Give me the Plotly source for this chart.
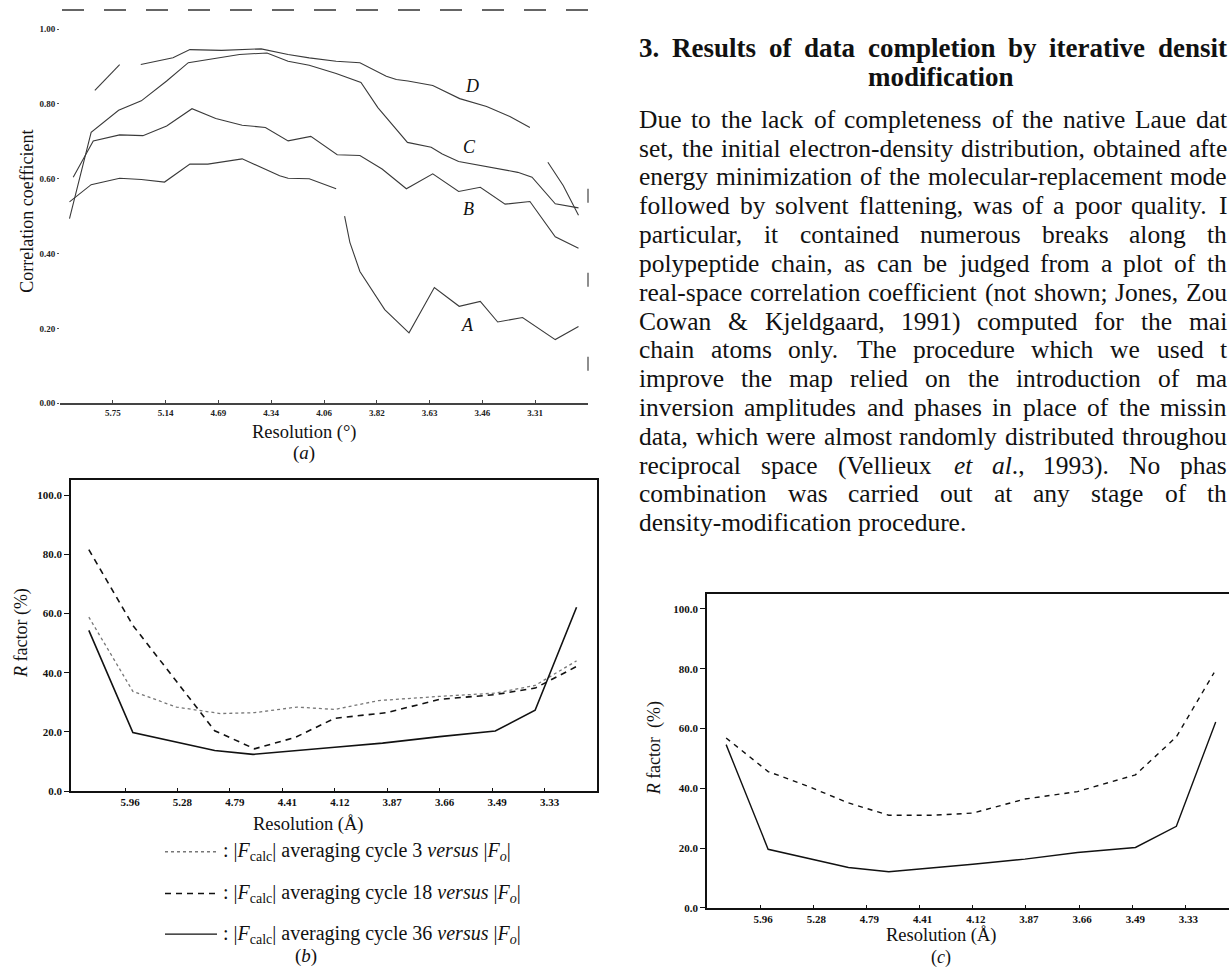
import re
import plotly.graph_objects as go

W, H = 1229, 976
SERIF = "Liberation Serif"

# ---------------- Panel (a): correlation coefficient ----------------
a_tick_pos = [1, 2, 3, 4, 5, 6, 7, 8, 9]
a_tick_text = ["5.75", "5.14", "4.69", "4.34", "4.06", "3.82", "3.63", "3.46", "3.31"]
a_ytick_vals = [0.0, 0.2, 0.4, 0.6, 0.8, 1.0]
a_ytick_text = ["0.00", "0.20", "0.40", "0.60", "0.80", "1.00"]

aA_x = [0.18, 0.59, 1.13, 1.54, 1.98, 2.46, 2.80, 3.45, 4.16, 4.32, 4.72, 5.23, None,
        5.39, 5.49, 5.68, 6.15, 6.61, 7.09, 7.56, 7.96, 8.29, 8.76, 9.38, 9.82]
aA_y = [0.538, 0.584, 0.601, 0.598, 0.591, 0.639, 0.639, 0.653, 0.608, 0.601, 0.600, 0.573, None,
        0.500, 0.430, 0.352, 0.250, 0.188, 0.309, 0.259, 0.272, 0.217, 0.229, 0.170, 0.205]

aB_x = [0.25, 0.63, 1.13, 1.57, 2.02, 2.50, 2.95, 3.45, 3.89, 4.32, 4.75, 5.25, 5.68, 6.10,
        6.56, 7.06, 7.55, 7.96, 8.43, 8.90, 9.38, 9.82]
aB_y = [0.604, 0.701, 0.717, 0.715, 0.741, 0.787, 0.761, 0.743, 0.737, 0.701, 0.713, 0.664, 0.662, 0.626,
        0.573, 0.613, 0.566, 0.577, 0.532, 0.539, 0.445, 0.414]

aC_x = [0.18, 0.37, 0.59, 1.11, 1.54, 2.02, 2.43, 3.40, 3.92, 4.32, 4.72, 5.23, 5.70, 6.02,
        6.58, 7.03, 7.24, 7.55, 8.17, 8.67, 8.94, 9.38, 9.82]
aC_y = [0.493, 0.598, 0.724, 0.783, 0.808, 0.861, 0.910, 0.932, 0.936, 0.914, 0.903, 0.881, 0.857, 0.790,
        0.697, 0.684, 0.666, 0.646, 0.631, 0.617, 0.604, 0.533, 0.522]

aD_x = [0.66, 1.13, None, 1.53, 2.14, 2.46, 3.06, 3.81, 4.32, 4.72, 5.23, 5.68, 6.18, 6.37,
        6.59, 7.06, 7.57, 8.08, 8.52, 8.90, None, 9.24, 9.53, 9.82]
aD_y = [0.836, 0.905, None, 0.905, 0.923, 0.945, 0.943, 0.947, 0.932, 0.923, 0.914, 0.910, 0.874, 0.865,
        0.861, 0.849, 0.814, 0.793, 0.766, 0.737, None, 0.644, 0.582, 0.502]

a_curve_labels = ["D", "C", "B", "A"]
a_label_x = [7.80, 7.76, 7.74, 7.72]
a_label_y = [0.849, 0.685, 0.520, 0.209]

# ---------------- Panel (b): R factor, three cycles ----------------
b_tick_pos = [1, 2, 3, 4, 5, 6, 7, 8, 9]
b_tick_text = ["5.96", "5.28", "4.79", "4.41", "4.12", "3.87", "3.66", "3.49", "3.33"]
r_ytick_vals = [0, 20, 40, 60, 80, 100]
r_ytick_text = ["0.0", "20.0", "40.0", "60.0", "80.0", "100.0"]

b_dot_x = [0.31, 1.15, 1.98, 2.82, 3.47, 4.28, 5.00, 5.84, 7.00, 8.06, 8.82, 9.61]
b_dot_y = [58.8, 33.7, 28.4, 26.2, 26.5, 28.4, 27.6, 30.6, 32.0, 33.1, 35.7, 44.0]
b_dash_x = [0.31, 1.15, 1.98, 2.71, 3.47, 4.24, 5.00, 5.99, 7.00, 8.06, 8.82, 9.61]
b_dash_y = [81.6, 56.0, 37.1, 20.4, 14.3, 18.1, 24.6, 26.5, 31.0, 32.6, 34.8, 42.1]
b_solid_x = [0.31, 1.15, 2.71, 3.44, 5.00, 5.91, 7.00, 8.06, 8.82, 9.61]
b_solid_y = [54.3, 19.8, 13.7, 12.4, 14.8, 16.2, 18.4, 20.3, 27.3, 62.1]

b_legend_text = [
    ": |<i>F</i><sub>calc</sub>| averaging cycle 3 <i>versus</i> |<i>F<sub>o</sub></i>|",
    ": |<i>F</i><sub>calc</sub>| averaging cycle 18 <i>versus</i> |<i>F<sub>o</sub></i>|",
    ": |<i>F</i><sub>calc</sub>| averaging cycle 36 <i>versus</i> |<i>F<sub>o</sub></i>|",
]

# ---------------- Panel (c): R factor, two curves ----------------
c_tick_pos = [1, 2, 3, 4, 5, 6, 7, 8, 9]
c_tick_text = ["5.96", "5.28", "4.79", "4.41", "4.12", "3.87", "3.66", "3.49", "3.33"]
c_dash_x = [0.36, 1.15, 1.91, 2.66, 3.42, 4.25, 5.00, 5.98, 6.97, 8.06, 8.83, 9.54]
c_dash_y = [56.8, 45.6, 40.6, 35.1, 31.0, 31.0, 31.7, 36.4, 38.9, 44.5, 57.2, 78.7]
c_solid_x = [0.36, 1.15, 2.66, 3.42, 5.00, 5.98, 6.97, 8.06, 8.83, 9.57]
c_solid_y = [54.6, 19.6, 13.5, 12.1, 14.6, 16.3, 18.5, 20.2, 27.3, 62.2]

# ---------------- Text column ----------------
heading_1 = "3. Results of data completion by iterative densit"
heading_2 = "modification"
body_lines = [
    "Due to the lack of completeness of the native Laue dat",
    "set, the initial electron-density distribution, obtained afte",
    "energy minimization of the molecular-replacement mode",
    "followed by solvent flattening, was of a poor quality. I",
    "particular, it contained numerous breaks along th",
    "polypeptide chain, as can be judged from a plot of th",
    "real-space correlation coefficient (not shown; Jones, Zou",
    "Cowan & Kjeldgaard, 1991) computed for the mai",
    "chain atoms only. The procedure which we used t",
    "improve the map relied on the introduction of ma",
    "inversion amplitudes and phases in place of the missin",
    "data, which were almost randomly distributed throughou",
    "reciprocal space (Vellieux <i>et</i> <i>al</i>., 1993). No phas",
    "combination was carried out at any stage of th",
    "density-modification procedure.",
]

# ---------------------------------------------------------------------
def px(x):
    return x / W


def py(y):
    return 1 - y / H


TIMES = dict(zip("abcdefghijklmnopqrstuvwxyz",
                 [444, 500, 444, 500, 444, 333, 500, 500, 278, 278, 500, 278, 778,
                  500, 500, 500, 500, 333, 389, 278, 500, 500, 722, 500, 500, 444]))
TIMES.update(dict(zip("ABCDEFGHIJKLMNOPQRSTUVWXYZ",
                      [722, 667, 667, 722, 611, 556, 722, 722, 333, 389, 722, 611, 889,
                       722, 722, 556, 722, 667, 556, 611, 722, 722, 944, 722, 722, 611])))
TIMES.update({c: 500 for c in "0123456789"})
TIMES.update({" ": 250, ",": 250, ".": 250, ";": 278, ":": 278, "(": 333, ")": 333,
              "-": 333, "&": 778})
TIMES_B = dict(TIMES)
TIMES_B.update(dict(zip("abcdefghijklmnopqrstuvwxyz",
                        [500, 556, 444, 556, 444, 333, 500, 556, 278, 333, 556, 278, 833,
                         556, 500, 556, 556, 444, 389, 333, 556, 500, 722, 500, 500, 444])))
TIMES_B.update({"R": 722})


def text_width(s, table, size):
    plain = re.sub(r"<[^>]+>", "", s)
    return sum(table.get(c, 500) for c in plain) * size / 1000.0


fig = go.Figure()

line_a = dict(color="#3a3a3a", width=1.1)
for xs, ys in [(aA_x, aA_y), (aB_x, aB_y), (aC_x, aC_y), (aD_x, aD_y)]:
    fig.add_trace(go.Scatter(x=xs, y=ys, mode="lines", line=line_a, connectgaps=False,
                             showlegend=False, xaxis="x", yaxis="y", hoverinfo="skip"))

fig.add_trace(go.Scatter(x=b_dot_x, y=b_dot_y, mode="lines", line=dict(color="#777", width=1.3, dash="dot"),
                         showlegend=False, xaxis="x2", yaxis="y2"))
fig.add_trace(go.Scatter(x=b_dash_x, y=b_dash_y, mode="lines", line=dict(color="#111", width=1.6, dash="6px,5px"),
                         showlegend=False, xaxis="x2", yaxis="y2"))
fig.add_trace(go.Scatter(x=b_solid_x, y=b_solid_y, mode="lines", line=dict(color="#111", width=1.6),
                         showlegend=False, xaxis="x2", yaxis="y2"))

fig.add_trace(go.Scatter(x=c_dash_x, y=c_dash_y, mode="lines", line=dict(color="#111", width=1.4, dash="5px,5px"),
                         showlegend=False, xaxis="x3", yaxis="y3"))
fig.add_trace(go.Scatter(x=c_solid_x, y=c_solid_y, mode="lines", line=dict(color="#111", width=1.4),
                         showlegend=False, xaxis="x3", yaxis="y3"))

tick_a = dict(family=SERIF, size=9, color="#222", weight="bold")
tick_r = dict(family=SERIF, size=11, color="#111", weight="bold")

fig.update_layout(
    width=W, height=H, autosize=False,
    margin=dict(l=0, r=0, t=0, b=0),
    paper_bgcolor="white", plot_bgcolor="white",
    font=dict(family=SERIF, color="#111"),
    xaxis=dict(domain=[px(60), px(588)], range=[0, 10], anchor="y",
               tickmode="array", tickvals=a_tick_pos, ticktext=a_tick_text,
               showgrid=False, zeroline=False, showline=True, linecolor="#444", linewidth=2,
               ticks="inside", ticklen=3, tickcolor="#444", tickfont=tick_a),
    yaxis=dict(domain=[py(405.7), py(10)], range=[0, 1.051], anchor="x",
               tickmode="array", tickvals=a_ytick_vals, ticktext=a_ytick_text,
               showgrid=False, zeroline=False, showline=False,
               ticks="outside", ticklen=2, tickcolor="#555", tickfont=tick_a),
    xaxis2=dict(domain=[px(71), px(597)], range=[-0.03, 10], anchor="y2",
                tickmode="array", tickvals=b_tick_pos, ticktext=b_tick_text,
                showgrid=False, zeroline=False, showline=True, mirror=True, linecolor="#111", linewidth=1.5,
                ticks="inside", ticklen=3, tickcolor="#111", tickfont=tick_r, ticklabelshift=5),
    yaxis2=dict(domain=[py(796), py(483)], range=[0, 105.1], anchor="x2",
                tickmode="array", tickvals=r_ytick_vals, ticktext=r_ytick_text,
                showgrid=False, zeroline=False, showline=True, mirror=True, linecolor="#111", linewidth=1.5,
                ticks="outside", ticklen=5, tickcolor="#111", tickfont=tick_r),
    xaxis3=dict(domain=[px(707), 1.0], range=[0, 9.82], anchor="y3",
                tickmode="array", tickvals=c_tick_pos, ticktext=c_tick_text,
                showgrid=False, zeroline=False, showline=True, mirror=True, linecolor="#111", linewidth=1.5,
                ticks="inside", ticklen=3, tickcolor="#111", tickfont=tick_r, ticklabelshift=3),
    yaxis3=dict(domain=[py(913.5), py(597.3)], range=[0, 105.1], anchor="x3",
                tickmode="array", tickvals=r_ytick_vals, ticktext=r_ytick_text,
                showgrid=False, zeroline=False, showline=True, mirror=False, linecolor="#111", linewidth=1.5,
                ticks="outside", ticklen=5, tickcolor="#111", tickfont=tick_r),
)

shapes = []
# broken top frame of panel (a)
shapes.append(dict(type="line", xref="paper", yref="paper", x0=px(62), x1=px(588), y0=py(10), y1=py(10),
                   line=dict(color="#333", width=1.6, dash="22px,20px")))
shapes.append(dict(type="line", xref="paper", yref="paper", x0=px(588), x1=px(588), y0=py(190), y1=py(405),
                   line=dict(color="#444", width=1.2, dash="14px,70px")))
# legend keys of panel (b)
key_styles = [dict(color="#777", width=1.3, dash="dot"),
              dict(color="#111", width=1.6, dash="6px,5px"),
              dict(color="#111", width=1.2)]
legend_y = [857, 899, 940]
for st, ly in zip(key_styles, legend_y):
    shapes.append(dict(type="line", xref="paper", yref="paper", x0=px(165), x1=px(217),
                       y0=py(ly), y1=py(ly), line=st))
fig.update_layout(shapes=shapes)

ann = []


def add_text(x, y, text, size, xanchor="center", angle=0, weight="normal", color="#111"):
    ann.append(dict(x=px(x), y=py(y), xref="paper", yref="paper", text=text, showarrow=False,
                    xanchor=xanchor, yanchor="middle", textangle=angle, borderpad=0,
                    font=dict(family=SERIF, size=size, color=color, weight=weight)))


# panel (a) texts
add_text(27, 213, "Correlation coefficient", 18, angle=-90)
add_text(304, 435, "Resolution (°)", 18.5)
add_text(304, 456, "(<i>a</i>)", 19)
for lab, lx, ly in zip(a_curve_labels, a_label_x, a_label_y):
    ann.append(dict(x=lx, y=ly, xref="x", yref="y", text="<i>%s</i>" % lab, showarrow=False,
                    xanchor="center", yanchor="middle", font=dict(family=SERIF, size=18, color="#111")))

# panel (b) texts
add_text(21, 637, "<i>R</i> factor (%)", 18, angle=-90)
add_text(308, 830, "Resolution (Å)", 18.5)
for t, ly in zip(b_legend_text, legend_y):
    add_text(222, ly, t, 20, xanchor="left")
add_text(306, 962, "(<i>b</i>)", 19)

# panel (c) texts
add_text(654, 753, "<i>R</i> factor  (%)", 18, angle=-90)
add_text(941, 941, "Resolution (Å)", 18.5)
add_text(941, 963, "(<i>c</i>)", 18)

# text column, justified word by word
LEFT, RIGHT = 638, 1226
BODY_SIZE, HEAD_SIZE = 25.5, 27


def justified(line, y, size, table, weight, justify=True):
    words = line.split(" ")
    widths = [text_width(w, table, size) for w in words]
    space = table[" "] * size / 1000.0
    natural = sum(widths) + space * (len(words) - 1)
    extra = 0.0
    if justify and len(words) > 1:
        extra = max(-1.5, (RIGHT - LEFT - natural) / (len(words) - 1))
    x = LEFT
    for w, wd in zip(words, widths):
        add_text(x, y, w, size, xanchor="left", weight=weight)
        x += wd + space + extra


justified(heading_1, 48, HEAD_SIZE, TIMES_B, "bold")
add_text(941, 77, heading_2, HEAD_SIZE, weight="bold")
for i, line in enumerate(body_lines):
    justified(line, 120 + 29 * i, BODY_SIZE, TIMES, "normal", justify=(i < len(body_lines) - 1))

fig.update_layout(annotations=ann)
fig.write_html("out.html", config={"displayModeBar": False},
               post_script="document.body.style.margin='0';document.body.style.overflow='hidden';")
